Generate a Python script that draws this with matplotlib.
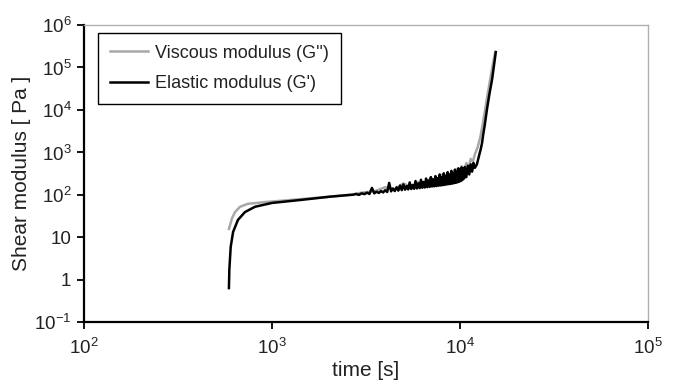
import matplotlib.pyplot as plt
from matplotlib.ticker import FixedLocator, NullLocator

plt.rcParams['font.family'] = ['Liberation Sans', 'DejaVu Sans']
plt.rcParams['mathtext.fontset'] = 'custom'
plt.rcParams['mathtext.rm'] = 'Liberation Sans'

# elastic modulus G' (black)
t_elastic = [590, 593, 603, 621, 659, 718, 812, 1000, 1410, 2040, 2600,
             2700, 2800, 2900, 3000, 3100, 3200, 3300, 3400, 3500, 3600,
             3700, 3800, 3900, 4000, 4100, 4200, 4300, 4400, 4500, 4600,
             4700, 4800, 4900, 5000, 5100, 5200, 5300, 5400, 5500, 5600,
             5700, 5800, 5900, 6000, 6100, 6200, 6300, 6400, 6500, 6600,
             6700, 6800, 6900, 7000, 7100, 7200, 7300, 7400, 7500, 7600,
             7700, 7800, 7900, 8000, 8100, 8200, 8300, 8400, 8500, 8600,
             8700, 8800, 8900, 9000, 9100, 9200, 9300, 9400, 9500, 9600,
             9700, 9800, 9900, 10000, 10100, 10200, 10300, 10400, 10500, 10600,
             10800, 11000, 11200, 11400, 11600, 11800, 12000, 12300, 12600,
             12900, 13100, 13300, 13500, 13900, 14300, 14800, 15200, 15500]
g_elastic = [0.63, 1.7, 5.9, 13.3, 25.5, 39, 52, 64, 75, 90, 99,
             100, 104, 99, 108, 103, 112, 104, 145, 108, 118,
             110, 122, 113, 128, 116, 190, 120, 140, 122, 150,
             125, 165, 128, 175, 131, 160, 133, 195, 136, 170,
             138, 210, 141, 185, 143, 225, 146, 200, 148, 240,
             151, 215, 153, 260, 156, 230, 158, 275, 160, 245,
             163, 300, 165, 260, 168, 320, 171, 280, 174, 340,
             177, 300, 180, 365, 183, 320, 187, 390, 191, 350,
             196, 420, 202, 380, 210, 440, 222, 420, 240, 450,
             260, 480, 300, 520, 350, 560, 430, 520, 800,
             1200, 1660, 2700, 4000, 1.0e4, 2.2e4, 5.1e4, 1.2e5, 2.3e5]

# viscous modulus G'' (grey)
t_viscous = [590, 613, 636, 676, 744, 918, 1250, 2040, 2600,
             3000, 3500, 4000, 4500, 5000, 5500, 6000, 6500, 7000, 7500,
             8000, 8500, 9000, 9300, 9600, 9900, 10200, 10500, 10800, 11100,
             11400, 11700, 12000, 12400, 12800, 13200, 13600, 14000, 14500,
             15000, 15400]
g_viscous = [15.6, 28, 39, 52, 61, 67, 75, 90, 99,
             112, 120, 150, 135, 185, 150, 200, 165, 250, 180,
             290, 200, 340, 230, 400, 260, 470, 320, 560, 420,
             700, 600, 900, 1300, 2200, 4500, 1.0e4, 2.2e4, 5.5e4,
             1.3e5, 2.3e5]

x_ticks = [1e2, 1e3, 1e4, 1e5]
x_labels = ['$10^2$', '$10^3$', '$10^4$', '$10^5$']
y_ticks = [1e-1, 1, 10, 1e2, 1e3, 1e4, 1e5, 1e6]
y_labels = ['$10^{-1}$', '1', '10', '$10^2$', '$10^3$', '$10^4$', '$10^5$', '$10^6$']

fig = plt.figure(figsize=(6.8, 3.87), dpi=100)
ax = fig.add_axes([84 / 680, 65 / 387, 564 / 680, 297 / 387])

ax.plot(t_viscous, g_viscous, color='#a8a8a8', lw=1.8, label="Viscous modulus (G'')")
ax.plot(t_elastic, g_elastic, color='black', lw=1.8, label="Elastic modulus (G')")

ax.set_xscale('log')
ax.set_yscale('log')
ax.set_xlim(1e2, 1e5)
ax.set_ylim(1e-1, 1e6)
ax.xaxis.set_major_locator(FixedLocator(x_ticks))
ax.yaxis.set_major_locator(FixedLocator(y_ticks))
ax.xaxis.set_minor_locator(NullLocator())
ax.yaxis.set_minor_locator(NullLocator())
ax.set_xticklabels(x_labels)
ax.set_yticklabels(y_labels)
ax.tick_params(direction='out', length=5, width=1.3, labelsize=13.5, color='black', colors='#222222')
ax.tick_params(axis='x', pad=6)
ax.tick_params(axis='y', pad=4)

for s in ['left', 'bottom']:
    ax.spines[s].set_linewidth(1.6)
    ax.spines[s].set_color('black')
for s in ['top', 'right']:
    ax.spines[s].set_linewidth(1.0)
    ax.spines[s].set_color('#b0b0b0')

ax.set_xlabel('time [s]', fontsize=15, labelpad=2, color='#222222')
ax.set_ylabel('Shear modulus [ Pa ]', fontsize=15, labelpad=2, color='#222222')

leg = ax.legend(loc='upper left', bbox_to_anchor=(0.025, 0.973), borderaxespad=0,
                fontsize=13, fancybox=False, framealpha=1, edgecolor='black',
                handlelength=2.1, handletextpad=0.4, borderpad=0.65, labelspacing=0.75)
leg.get_frame().set_linewidth(1.0)
for txt in leg.get_texts():
    txt.set_color('#222222')

plt.savefig('out.png', dpi=100)
